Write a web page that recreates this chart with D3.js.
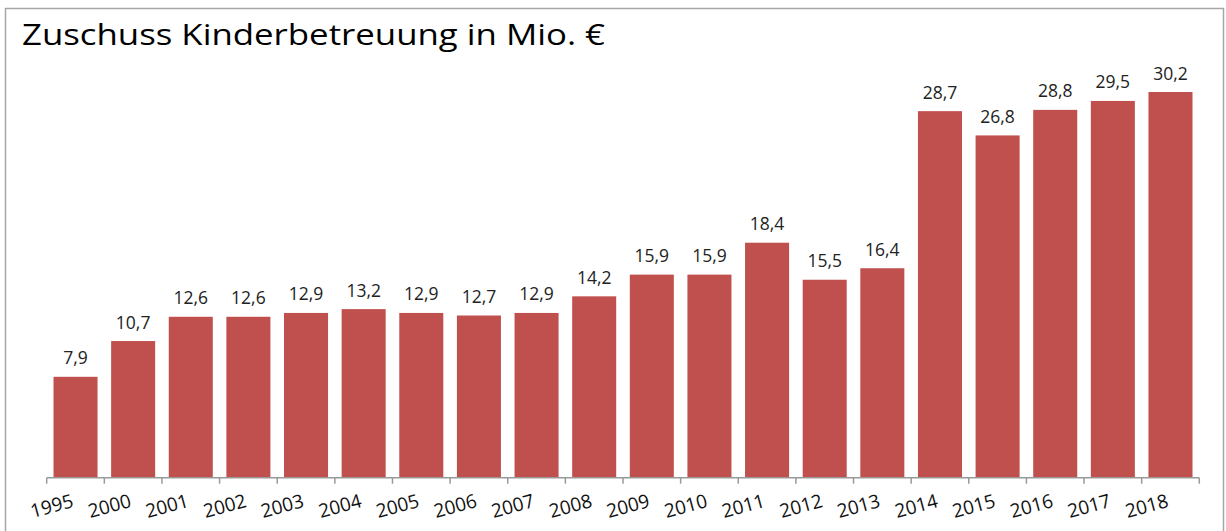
<!DOCTYPE html>
<html>
<head>
<meta charset="utf-8">
<script src="https://cdn.jsdelivr.net/npm/d3@7"></script>
<style>
  body { margin: 0; background: #fff; }
  svg { display: block; }
</style>
</head>
<body>
<div id="chart"></div>
<script>
// data
var years = ["1995", "2000", "2001", "2002", "2003", "2004", "2005", "2006", "2007", "2008",
             "2009", "2010", "2011", "2012", "2013", "2014", "2015", "2016", "2017", "2018"];
var values = [7.9, 10.7, 12.6, 12.6, 12.9, 13.2, 12.9, 12.7, 12.9, 14.2,
              15.9, 15.9, 18.4, 15.5, 16.4, 28.7, 26.8, 28.8, 29.5, 30.2];
var title = "Zuschuss Kinderbetreuung in Mio. €";

var width = 1226, height = 531;
var barColor = "#C0504D";
var axisColor = "#999";
var font = "'Open Sans', 'Noto Sans', sans-serif";

var svg = d3.select("#chart").append("svg")
  .attr("width", width)
  .attr("height", height);

// frame
svg.append("rect")
  .attr("x", 5.5).attr("y", 8.5)
  .attr("width", 1218).attr("height", 540)
  .attr("fill", "none")
  .attr("stroke", "#a6a6a6")
  .attr("stroke-width", 1.5);

svg.append("text")
  .attr("x", 22).attr("y", 45)
  .attr("font-family", font)
  .attr("font-size", 30)
  .attr("textLength", 583)
  .attr("lengthAdjust", "spacingAndGlyphs")
  .attr("fill", "#000")
  .text(title);

var x = d3.scaleBand()
  .domain(years)
  .range([46.7, 1199.3])
  .paddingInner(0.236)
  .paddingOuter(0.118);

var y = d3.scaleLinear()
  .domain([0, 30.2])
  .range([477.7, 92]);

svg.selectAll("rect.bar")
  .data(values)
  .enter().append("rect")
    .attr("class", "bar")
    .attr("x", function(d, i) { return x(years[i]); })
    .attr("y", function(d) { return y(d); })
    .attr("width", x.bandwidth())
    .attr("height", function(d) { return y(0) - y(d); })
    .attr("fill", barColor);

// value labels
svg.selectAll("text.val")
  .data(values)
  .enter().append("text")
    .attr("class", "val")
    .attr("x", function(d, i) { return x(years[i]) + x.bandwidth() / 2; })
    .attr("y", function(d) { return y(d) - 12.5; })
    .attr("text-anchor", "middle")
    .attr("font-family", font)
    .attr("font-size", 17.5)
    .attr("fill", "#222")
    .text(function(d) { return d.toFixed(1).replace(".", ","); });

// x axis
var axis = svg.append("g")
  .attr("transform", "translate(0," + y(0) + ")");

var step = x.step();
var tickPos = d3.range(years.length + 1).map(function(i) { return 46.7 + i * step; });

axis.append("line")
  .attr("x1", 46.7).attr("x2", 1199.3)
  .attr("y1", 0).attr("y2", 0)
  .attr("stroke", axisColor)
  .attr("stroke-width", 1.5);

axis.selectAll("line.tick")
  .data(tickPos)
  .enter().append("line")
    .attr("class", "tick")
    .attr("x1", function(d) { return d; })
    .attr("x2", function(d) { return d; })
    .attr("y1", 0).attr("y2", 6)
    .attr("stroke", axisColor)
    .attr("stroke-width", 1.5);

axis.selectAll("text.lbl")
  .data(years)
  .enter().append("text")
    .attr("class", "lbl")
    .attr("transform", function(d) {
      return "translate(" + (x(d) + x.bandwidth() / 2 - 1) + ",29) rotate(-15)";
    })
    .attr("text-anchor", "end")
    .attr("font-family", font)
    .attr("font-size", 19)
    .attr("fill", "#111")
    .text(function(d) { return d; });
</script>
</body>
</html>
